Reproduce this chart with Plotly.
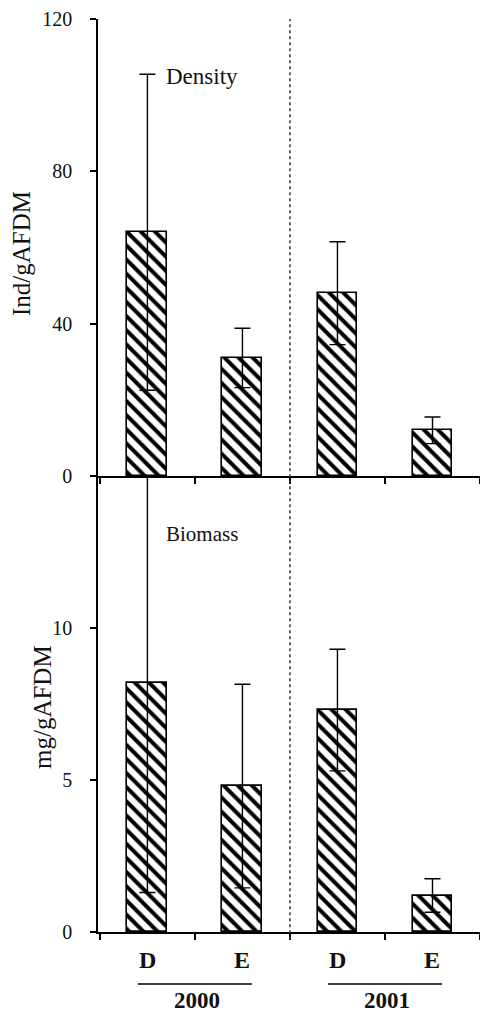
import plotly.graph_objects as go

# ---- data ----
categories = ["D", "E", "D", "E"]
years = ["2000", "2001"]
density = [64.0, 31.0, 48.0, 12.0]
density_err = [41.5, 7.8, 13.5, 3.5]
biomass = [8.2, 4.8, 7.3, 1.2]
biomass_err = [6.9, 3.35, 2.0, 0.55]
density_ticks = [0, 40, 80, 120]
biomass_ticks = [0, 5, 10]

FONT = "Liberation Serif"
xpos = list(range(len(categories)))

fig = go.Figure()

bar_style = dict(
    width=0.42,
    marker=dict(
        color="white",
        line=dict(color="black", width=1.6),
        pattern=dict(shape="\\", fgcolor="#000000", fgopacity=1, bgcolor="white",
                     size=10, solidity=0.4, fillmode="replace"),
    ),
    showlegend=False,
    hoverinfo="skip",
)

fig.add_trace(go.Bar(
    x=xpos, y=density, xaxis="x", yaxis="y",
    error_y=dict(type="data", array=density_err, color="black", thickness=1.4, width=8),
    **bar_style,
))
fig.add_trace(go.Bar(
    x=xpos, y=biomass, xaxis="x2", yaxis="y2",
    error_y=dict(type="data", array=biomass_err, color="black", thickness=1.4, width=8),
    **bar_style,
))

split = 0.4995
xcommon = dict(
    range=[-0.52, 3.5], showline=True, linecolor="black", linewidth=1.5,
    ticks="outside", ticklen=6, tickwidth=1.5, tickcolor="black",
    tickvals=[-0.5, 0.5, 1.5, 2.5, 3.5], showticklabels=False,
    showgrid=False, zeroline=False, fixedrange=True,
)
ycommon = dict(
    showline=True, linecolor="black", linewidth=1.5,
    ticks="outside", ticklen=6, tickwidth=1.5, tickcolor="black",
    showgrid=False, zeroline=False,
    tickfont=dict(family=FONT, size=20, color="#111"),
    ticklabelstandoff=14,
)

fig.update_layout(
    width=480, height=1014,
    margin=dict(l=98, r=0, t=19, b=82),
    paper_bgcolor="white", plot_bgcolor="white",
    bargap=0,
    xaxis=dict(domain=[0, 1], anchor="y", **xcommon),
    xaxis2=dict(domain=[0, 1], anchor="y2", **xcommon),
    yaxis=dict(domain=[split, 1], anchor="x", range=[0, 120], tickvals=density_ticks, **ycommon),
    yaxis2=dict(domain=[0, split], anchor="x2", range=[0, 15], tickvals=biomass_ticks, **ycommon),
)

# dotted separator between years
fig.add_shape(type="line", xref="x", yref="paper", x0=1.5, x1=1.5, y0=-0.008, y1=1,
              line=dict(color="#333", width=1.5, dash="dot"))

anns = []
# panel labels
anns.append(dict(text="Density", x=0.17, y=105, xref="x", yref="y", xanchor="left",
                 yanchor="middle", showarrow=False, font=dict(family=FONT, size=23, color="#111")))
anns.append(dict(text="Biomass", x=0.17, y=13.1, xref="x2", yref="y2", xanchor="left",
                 yanchor="middle", showarrow=False, font=dict(family=FONT, size=21, color="#111")))
# axis titles
anns.append(dict(text="Ind/gAFDM", x=-76 / 382, y=1 - (254 - 19) / 913, xref="paper", yref="paper",
                 xanchor="center", yanchor="middle", textangle=-90, showarrow=False,
                 font=dict(family=FONT, size=25, color="#111")))
anns.append(dict(text="mg/gAFDM", x=-56 / 382, y=1 - (707 - 19) / 913, xref="paper", yref="paper",
                 xanchor="center", yanchor="middle", textangle=-90, showarrow=False,
                 font=dict(family=FONT, size=25, color="#111")))
# category labels
for i, c in enumerate(categories):
    anns.append(dict(text="<b>%s</b>" % c, x=i, y=-28 / 913, xref="x2", yref="paper",
                     showarrow=False, yanchor="middle",
                     font=dict(family=FONT, size=24, color="#111")))
# year labels and underlines
for j, yr in enumerate(years):
    xc = 2 * j + 0.5
    anns.append(dict(text="<b>%s</b>" % yr, x=xc + 0.02, y=-68 / 913, xref="x2", yref="paper",
                     showarrow=False, yanchor="middle",
                     font=dict(family=FONT, size=23, color="#111")))
    fig.add_shape(type="line", xref="x2", yref="paper", x0=xc - 0.6, x1=xc + 0.6,
                  y0=-52 / 913, y1=-52 / 913, line=dict(color="black", width=1.5))

fig.update_layout(annotations=anns)

fig.write_html("out.html")
